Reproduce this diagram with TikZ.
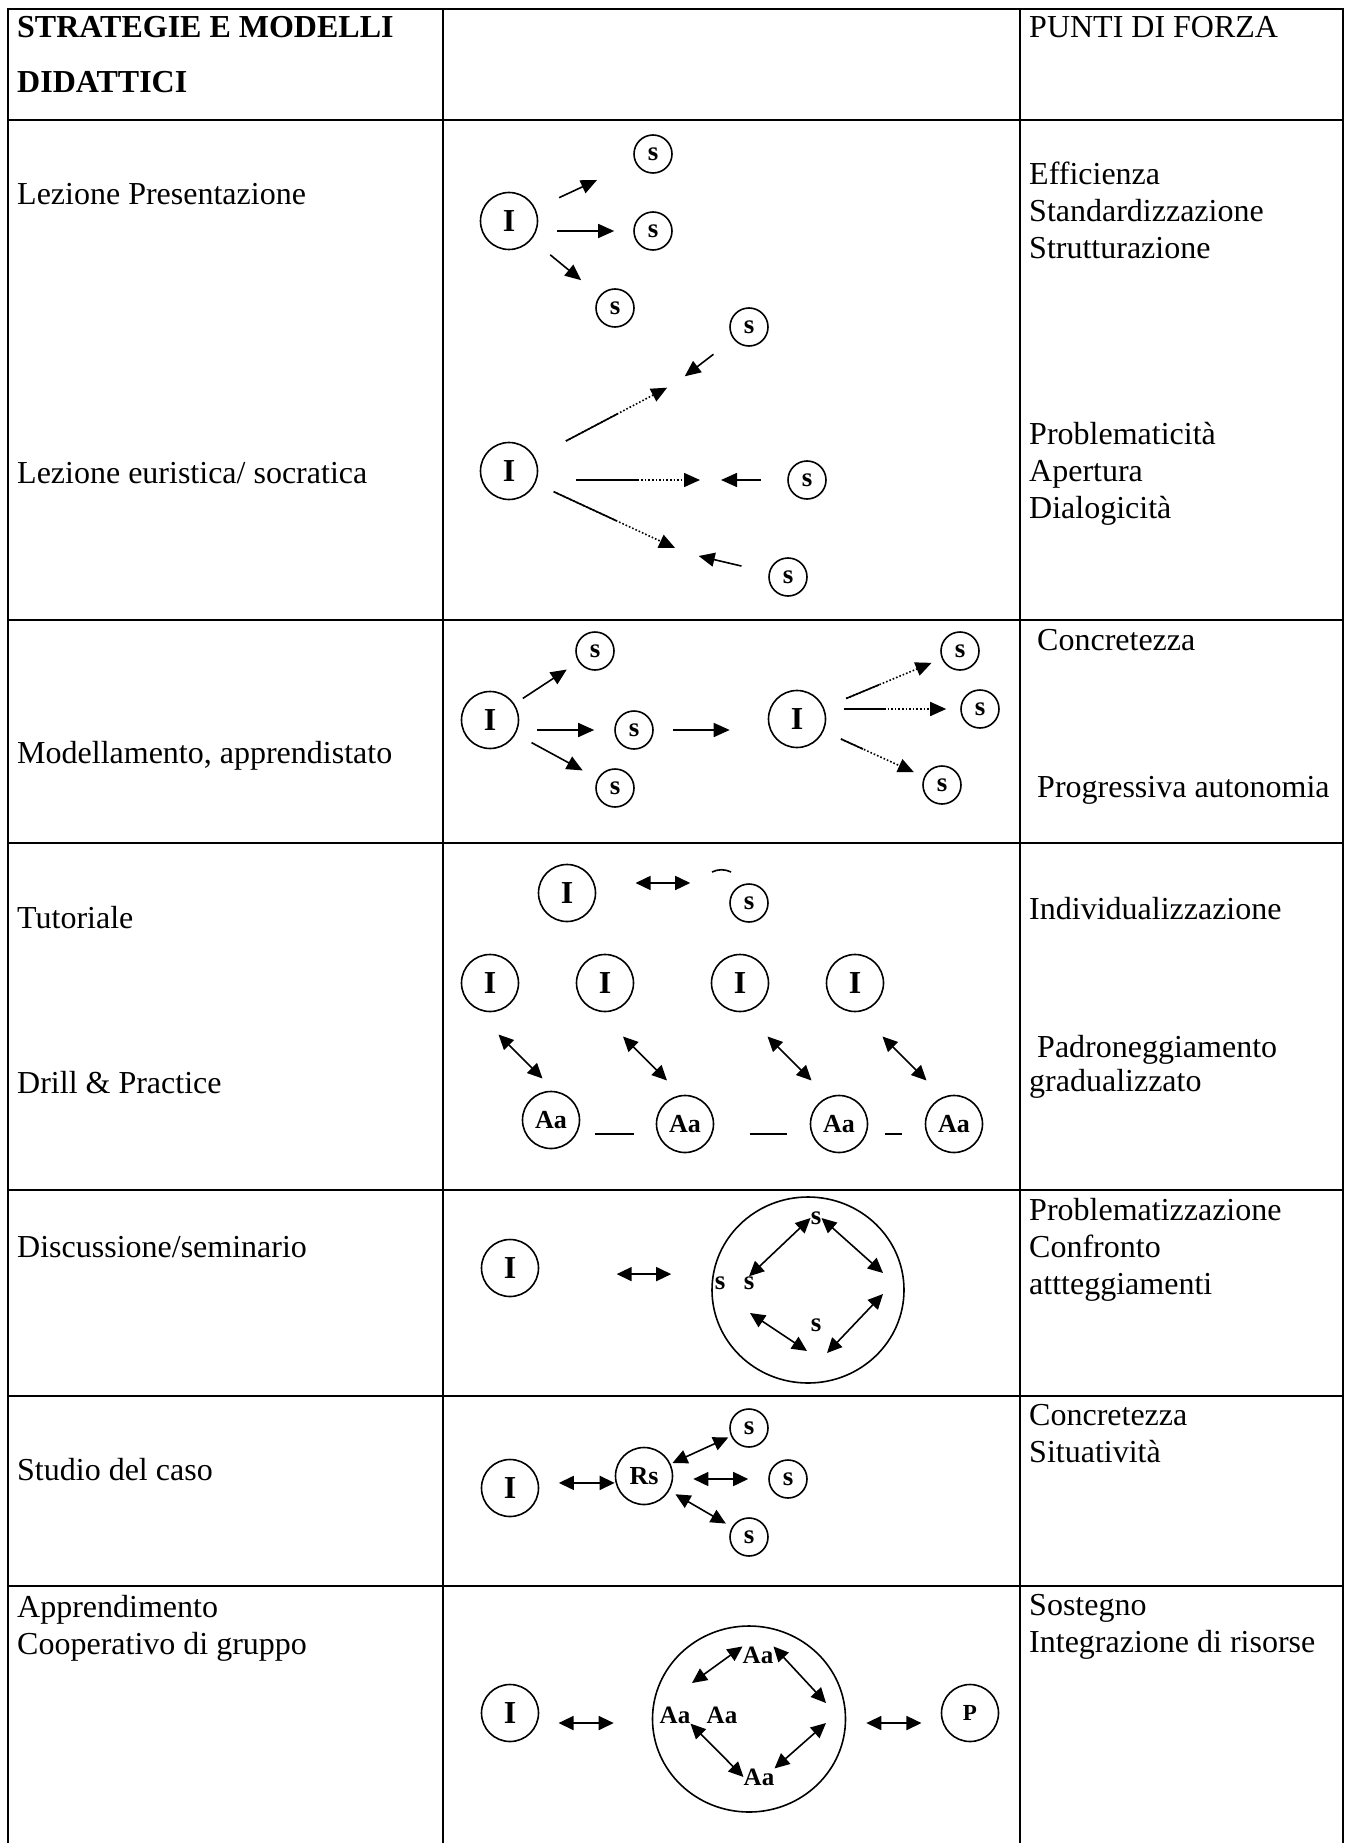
\documentclass[tikz,border=0pt]{standalone}
\usepackage{fontspec}
\setmainfont{Liberation Serif}
\usetikzlibrary{positioning, calc, arrows.meta, shapes.geometric}
\tikzset{
    tableline/.style={line width=2.2pt, line cap=rect},
    celltext/.style={anchor=base west, inner sep=0pt, align=left, font=\fontsize{32}{37}\selectfont},
    headtext/.style={celltext, font=\fontsize{32}{37}\selectfont\bfseries},
    agent/.style={circle, draw, line width=1.6pt, minimum size=57pt, inner sep=0pt, font=\fontsize{32}{32}\selectfont\bfseries},
    pupil/.style={agent, minimum size=38pt, font=\fontsize{27}{27}\selectfont\bfseries},
    tag/.style={inner sep=0pt, font=\fontsize{27}{27}\selectfont\bfseries},
    grouptag/.style={tag, font=\fontsize{25}{25}\selectfont\bfseries},
    ring/.style={ellipse, draw, line width=1.6pt, inner sep=0pt, minimum width=193pt, minimum height=186pt},
    link/.style={line width=1.6pt},
    arr/.style={link, -{Triangle[length=16pt,width=14pt]}},
    darr/.style={link, {Triangle[length=15pt,width=14pt]}-{Triangle[length=15pt,width=14pt]}},
    dotarr/.style={arr, dotted},
    mixarr/.style={dotarr, postaction={draw, solid, -, shorten >=#1}}
}

\begin{document}
\begin{tikzpicture}[x=1pt, y=-1pt]
    \useasboundingbox (0,0) rectangle (1348,1843);
    %Frames
    \foreach \y in {9,120,620,843,1190,1396,1586}
        \draw[tableline] (8,\y) -- (1343,\y);
    \foreach \x in {8,443,1020,1343}
        \draw[tableline] (\x,9) -- (\x,1843);

    %Left column (multi-line cells sit on their last baseline)
    \node[headtext] (title) at (17,93) {STRATEGIE E MODELLI\\[18pt]DIDATTICI};
    \node[celltext] (pres) at (17,205) {Lezione Presentazione};
    \node[celltext] (heur) at (17,483) {Lezione euristica/ socratica};
    \node[celltext] (model) at (17,763) {Modellamento, apprendistato};
    \node[celltext] (tutor) at (17,928) {Tutoriale};
    \node[celltext] (drill) at (17,1093) {Drill \& Practice};
    \node[celltext] (discuss) at (17,1257) {Discussione/seminario};
    \node[celltext] (case) at (17,1480) {Studio del caso};
    \node[celltext] (coop) at (17,1654) {Apprendimento\\Cooperativo di gruppo};

    %Right column
    \node[celltext] (forza) at (1029,38) {PUNTI DI FORZA};
    \node[celltext] (f1) at (1029,259) {Efficienza\\Standardizzazione\\Strutturazione};
    \node[celltext] (f2) at (1029,518) {Problematicità\\Apertura\\Dialogicità};
    \node[celltext] (f3a) at (1037,650) {Concretezza};
    \node[celltext] (f3b) at (1037,797) {Progressiva autonomia};
    \node[celltext] (f4a) at (1029,919) {Individualizzazione};
    \node[celltext] (f4b) at (1029,1091) {\hspace*{8pt}Padroneggiamento\\[-3pt]gradualizzato};
    \node[celltext] (f5) at (1029,1294) {Problematizzazione\\Confronto\\attteggiamenti};
    \node[celltext] (f6) at (1029,1462) {Concretezza\\Situatività};
    \node[celltext] (f7) at (1029,1652) {Sostegno\\Integrazione di risorse};

    %Lezione presentazione
    \node[agent] (I1) at (509,221) {I};
    \node[pupil] (s1) at (653,154) {s};
    \node[pupil] (s2) at (653,231) {s};
    \node[pupil] (s3) at (615,308) {s};
    \draw[arr, shorten <=26pt, shorten >=42pt] (I1) -- (s1);
    \draw[arr, shorten <=19pt, shorten >=19pt] (I1.east |- s2) -- (s2);
    \draw[arr, shorten <=24pt, shorten >=24pt] (I1) -- (s3);

    %Lezione euristica
    \node[agent] (I2) at (509,471) {I};
    \node[pupil] (s4) at (749,327) {s};
    \node[pupil] (s5) at (807,480) {s};
    \node[pupil] (s6) at (788,577) {s};
    \coordinate (m1) at (676,383);
    \coordinate (m2) at (711,480);
    \coordinate (m3) at (686,553);
    \draw[mixarr=66pt, shorten <=35pt, shorten >=10pt] (I2) -- (m1);
    \draw[arr, shorten <=25pt, shorten >=11pt] (s4) -- (m1);
    \draw[mixarr=72pt, shorten <=38pt, shorten >=11pt] (I2.east |- m2) -- (m2);
    \draw[arr, shorten <=26pt, shorten >=10pt] (s5) -- (m2);
    \draw[mixarr=77pt, shorten <=20pt, shorten >=12pt] (I2) -- (m3);
    \draw[arr, shorten <=28pt, shorten >=13pt] (s6) -- (m3);

    %Modellamento
    \node[agent] (I3) at (490,720) {I};
    \node[pupil] (s7) at (595,651) {s};
    \node[pupil] (s8) at (634,730) {s};
    \node[pupil] (s9) at (615,788) {s};
    \node[agent] (I4) at (797,719) {I};
    \node[pupil] (s10) at (960,651) {s};
    \node[pupil] (s11) at (980,709) {s};
    \node[pupil] (s12) at (942,785) {s};
    \draw[arr, shorten <=10pt, shorten >=14pt] (I3) -- (s7);
    \draw[arr, shorten <=18pt, shorten >=20pt] (I3.east |- s8) -- (s8);
    \draw[arr, shorten <=18pt, shorten >=17pt] (I3) -- (s9);
    \draw[arr, shorten <=19pt, shorten >=38pt] (s8.east) -- (s8.east -| I4.west);
    \draw[mixarr=68pt, shorten <=24pt, shorten >=11pt] (I4) -- (s10);
    \draw[mixarr=75pt, shorten <=18pt, shorten >=14pt] (I4.east |- s11) -- (s11);
    \draw[mixarr=67pt, shorten <=19pt, shorten >=11pt] (I4) -- (s12);

    %Tutoriale
    \node[agent] (I5) at (567,893) {I};
    \node[pupil] (s13) at (749,903) {s};
    \draw[darr, shorten <=41pt, shorten >=39pt] (I5.20) -- (I5.20 -| s13.west);
    \draw[link] (712,872) .. controls (718,869) and (725,869) .. (731,872);

    %Drill & Practice
    \foreach \i/\x in {1/490, 2/605, 3/740, 4/855}
        \node[agent] (D\i) at (\x,983) {I};
    \foreach \i/\x/\y in {1/551/1120, 2/685/1124, 3/839/1124, 4/954/1124}
        \node[agent, font=\fontsize{26}{26}\selectfont\bfseries] (A\i) at (\x,\y) {Aa};
    \foreach \i in {1,...,4}
        \draw[darr] ($(D\i)!.5!(A\i)+(-22,-17)$) -- ($(D\i)!.5!(A\i)+(22,27)$);
    \draw[link, shorten <=15pt, shorten >=23pt] (A2.200 -| A1.east) -- (A2.200);
    \draw[link, shorten <=37pt, shorten >=24pt] (A2.-20) -- (A3.200);
    \draw[link, shorten <=18pt, shorten >=24pt] (A3.-20) -- (A4.200);

    %Discussione
    \node[agent] (I6) at (510,1268) {I};
    \node[ring, minimum width=192pt] (ring1) at (808,1290) {};
    \draw[darr, shorten <=78pt, shorten >=40pt] (I6.-12) -- (I6.-12 -| ring1.west);
    \node[tag] (sT) at (816,1218) {s};
    \node[tag] (sO) at (720,1283) {s};
    \node[tag] (sL) at (749,1283) {s};
    \node[tag] (sB) at (816,1325) {s};
    \coordinate (e1) at (883,1273);
    \coordinate (e2) at (883,1294);
    \coordinate (w1) at (750,1313);
    \coordinate (b1) at (827,1353);
    \coordinate (b2) at (807,1351);
    \draw[darr] (sT.west) -- (sL.north);
    \draw[darr] (sT.east) -- (e1);
    \draw[darr] (e2) -- (b1);
    \draw[darr] (w1) -- (b2);

    %Studio del caso
    \node[agent] (I7) at (510,1488) {I};
    \node[agent, font=\fontsize{26}{26}\selectfont\bfseries] (Rs) at (644,1476) {Rs};
    \node[pupil] (s14) at (749,1428) {s};
    \node[pupil] (s15) at (788,1479) {s};
    \node[pupil] (s16) at (749,1537) {s};
    \draw[darr, shorten <=20pt] (I7.10) -- (I7.10 -| Rs.west);
    \draw[darr, shorten <=2pt, shorten >=3pt] (Rs) -- (s14);
    \draw[darr, shorten <=20pt, shorten >=20pt] (Rs.east |- s15) -- (s15);
    \draw[darr, shorten <=7pt, shorten >=7pt] (Rs) -- (s16);

    %Apprendimento cooperativo
    \node[agent] (I8) at (510,1713) {I};
    \node[ring] (ring2) at (749,1719) {};
    \node[agent, font=\fontsize{23}{23}\selectfont\bfseries] (P) at (970,1713) {P};
    \draw[darr, shorten <=21pt, shorten >=38pt] (I8.-20) -- (I8.-20 -| ring2.west);
    \draw[darr, shorten <=20pt, shorten >=21pt] (ring2.east |- P.200) -- (P.200);
    \node[grouptag] (aT) at (758,1655) {Aa};
    \node[grouptag] (aL1) at (675,1715) {Aa};
    \node[grouptag] (aL2) at (722,1715) {Aa};
    \node[grouptag] (aB) at (759,1777) {Aa};
    \coordinate (g1) at (692,1683);
    \coordinate (g2) at (826,1703);
    \coordinate (g3) at (826,1723);
    \draw[darr] (aT.north west) -- (g1);
    \draw[darr] (aT.north east) -- (g2);
    \draw[darr] (g3) -- (aB.north east);
    \draw[darr] (aL1.south east) -- (aB.west);
\end{tikzpicture}
\end{document}
